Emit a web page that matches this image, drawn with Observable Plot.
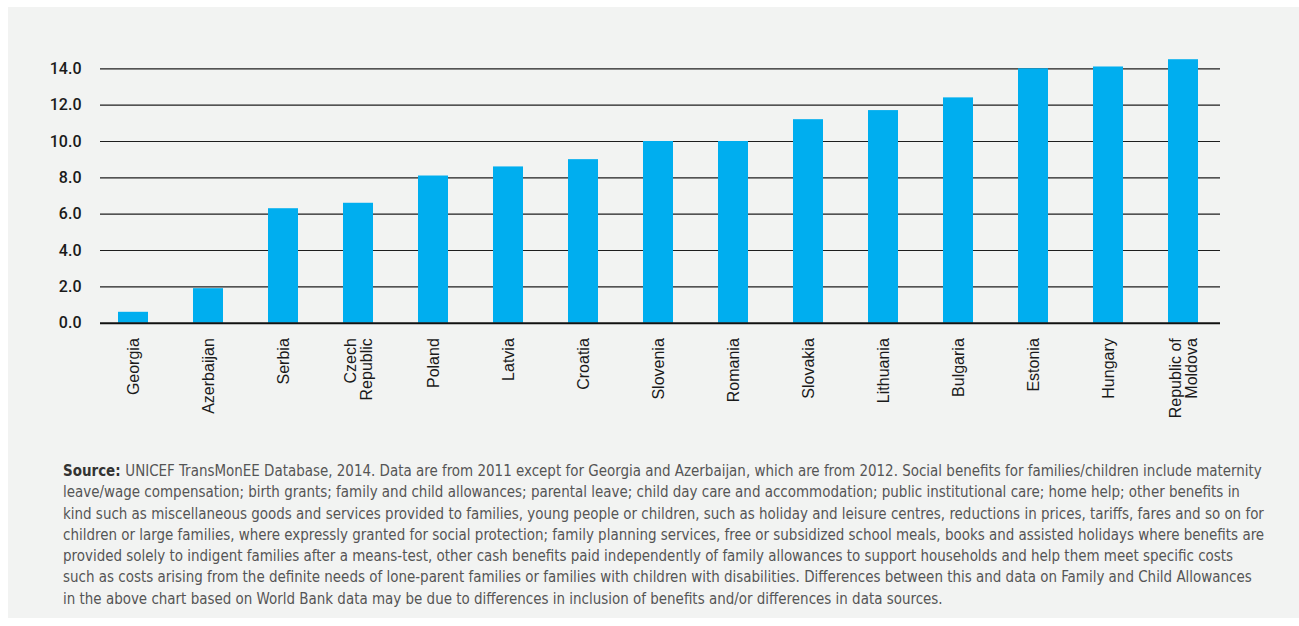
<!DOCTYPE html>
<html>
<head>
<meta charset="utf-8">
<script src="https://cdn.jsdelivr.net/npm/d3@7"></script>
<script src="https://cdn.jsdelivr.net/npm/@observablehq/plot@0.6"></script>
<style>
  html, body { margin: 0; padding: 0; background: #ffffff; }
  body { width: 1299px; height: 626px; position: relative; overflow: hidden; }
  #panel { position: absolute; left: 8px; top: 7px; width: 1291px; height: 611px; background: #f2f3f2; }
  #chart { position: absolute; left: 0; top: 0; }
  #chart svg { background: transparent !important; }
  #caption { position: absolute; left: 63px; top: 461px; font-family: "DejaVu Sans Condensed", "DejaVu Sans", sans-serif; font-size: 14.5px; line-height: 21.3px; color: #555; }
  #caption div { white-space: nowrap; }
  #caption b { color: #333; }
</style>
</head>
<body>
<div id="panel"></div>
<div id="chart"></div>
<div id="caption"></div>
<script>
const countries = ["Georgia", "Azerbaijan", "Serbia", "Czech\nRepublic", "Poland", "Latvia", "Croatia", "Slovenia", "Romania", "Slovakia", "Lithuania", "Bulgaria", "Estonia", "Hungary", "Republic of\nMoldova"];
const values = [0.6, 1.9, 6.3, 6.6, 8.1, 8.6, 9.0, 10.0, 10.0, 11.2, 11.7, 12.4, 14.0, 14.1, 14.5];
const yTicks = [0, 2, 4, 6, 8, 10, 12, 14];
const captionLines = [
  "UNICEF TransMonEE Database, 2014. Data are from 2011 except for Georgia and Azerbaijan, which are from 2012. Social benefits for families/children include maternity",
  "leave/wage compensation; birth grants; family and child allowances; parental leave; child day care and accommodation; public institutional care; home help; other benefits in",
  "kind such as miscellaneous goods and services provided to families, young people or children, such as holiday and leisure centres, reductions in prices, tariffs, fares and so on for",
  "children or large families, where expressly granted for social protection; family planning services, free or subsidized school meals, books and assisted holidays where benefits are",
  "provided solely to indigent families after a means-test, other cash benefits paid independently of family allowances to support households and help them meet specific costs",
  "such as costs arising from the definite needs of lone-parent families or families with children with disabilities. Differences between this and data on Family and Child Allowances",
  "in the above chart based on World Bank data may be due to differences in inclusion of benefits and/or differences in data sources."
];
const captionLead = "Source:";

const data = countries.map((c, i) => ({country: c, value: values[i]}));

const chart = Plot.plot({
  width: 1299,
  height: 440,
  marginLeft: 100,
  marginRight: 79,
  marginTop: 68.3,
  marginBottom: 117.3,
  style: {background: "transparent"},
  x: {domain: countries, paddingInner: 0.6, paddingOuter: 0.235, align: 0.44, label: null},
  y: {domain: [0, 14], label: null},
  marks: [
    Plot.ruleY(yTicks.filter(d => d !== 0), {stroke: "#1e1e1e", strokeWidth: 1.2}),
    Plot.barY(data, {x: "country", y: "value", fill: "#00aeef"}),
    Plot.ruleY([0], {stroke: "#111", strokeWidth: 2}),
    Plot.axisY({ticks: yTicks, tickFormat: d => d.toFixed(1), tickSize: 0, tickPadding: 19, fontSize: 16, fontWeight: 500, fill: "#1a1a1a", fontFamily: "'Liberation Sans Narrow', 'Roboto', sans-serif"}),
    Plot.axisX({tickRotate: -90, tickSize: 0, tickPadding: 15, fontSize: 16, lineHeight: 1.0, fill: "#1a1a1a", fontFamily: "'Liberation Sans', Arial, sans-serif", tickFormat: d => d})
  ]
});
document.getElementById("chart").appendChild(chart);

const cap = document.getElementById("caption");
captionLines.forEach((line, i) => {
  const div = document.createElement("div");
  if (i === 0) {
    const b = document.createElement("b");
    b.textContent = captionLead + " ";
    div.appendChild(b);
  }
  div.appendChild(document.createTextNode(line));
  cap.appendChild(div);
});
// fit font size so that the first line spans the same width as in the reference
const first = cap.firstChild;
first.style.display = "inline-block";
const w = first.getBoundingClientRect().width;
const fs = 14.5 * 1199 / w;
cap.style.fontSize = fs.toFixed(2) + "px";
first.style.display = "block";
</script>
</body>
</html>
